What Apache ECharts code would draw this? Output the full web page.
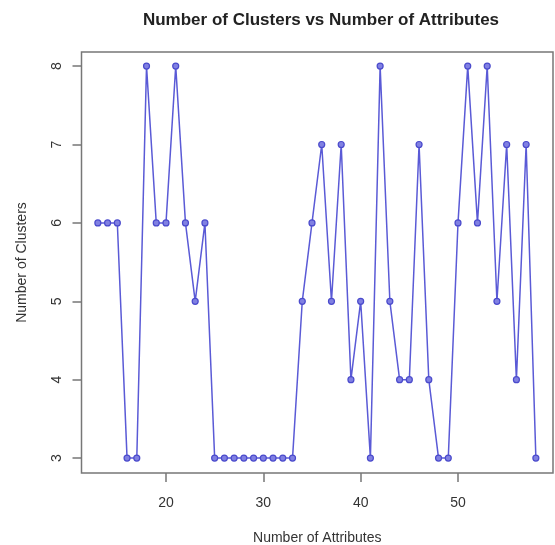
<!DOCTYPE html>
<html>
<head>
<meta charset="utf-8">
<script src="https://cdn.jsdelivr.net/npm/echarts@6/dist/echarts.min.js"></script>
<style>
  html, body { margin: 0; padding: 0; background: #fff; }
  #chart { width: 555px; height: 545px; }
</style>
</head>
<body>
<div id="chart"></div>
<script>
// Number of attributes used for each clustering run
const attributes = [13, 14, 15, 16, 17, 18, 19, 20, 21, 22, 23, 24, 25, 26, 27, 28,
  29, 30, 31, 32, 33, 34, 35, 36, 37, 38, 39, 40, 41, 42, 43, 44, 45, 46, 47, 48,
  49, 50, 51, 52, 53, 54, 55, 56, 57, 58];
// Number of clusters found for each run
const clusters = [6, 6, 6, 3, 3, 8, 6, 6, 8, 6, 5, 6, 3, 3, 3, 3,
  3, 3, 3, 3, 3, 5, 6, 7, 5, 7, 4, 5, 3, 8, 5, 4, 4, 7, 4, 3,
  3, 6, 8, 6, 8, 5, 7, 4, 7, 3];
// Axis tick labels
const xTicks = [20, 30, 40, 50];
const yTicks = [3, 4, 5, 6, 7, 8];

const FONT = '"Liberation Sans", Arial, sans-serif';
const TXT = '#333';

const chart = echarts.init(document.getElementById('chart'), null, { renderer: 'canvas' });

chart.setOption({
  animation: false,
  backgroundColor: '#fff',
  title: {
    text: 'Number of Clusters vs Number of Attributes',
    left: 316,
    top: 7,
    textAlign: 'center',
    textStyle: { fontFamily: FONT, fontSize: 17, fontWeight: 'bold', color: '#222' }
  },
  grid: {
    left: 81.5, right: 2, top: 52, bottom: 72,
    outerBoundsMode: 'none',
    containLabel: false,
    show: true, borderColor: '#777', borderWidth: 1.5, backgroundColor: 'transparent'
  },
  xAxis: {
    type: 'value',
    min: 11.32, max: 59.76,
    name: 'Number of Attributes',
    nameLocation: 'middle',
    nameGap: 58,
    nameTextStyle: { fontFamily: FONT, fontSize: 14, color: TXT },
    splitLine: { show: false },
    axisLine: { show: false },
    axisTick: {
      show: true, inside: false, length: 9, customValues: xTicks,
      lineStyle: { color: '#777', width: 1.5 }
    },
    axisLabel: {
      customValues: xTicks, margin: 23,
      fontFamily: FONT, fontSize: 14, color: TXT
    }
  },
  yAxis: {
    type: 'value',
    min: 2.81, max: 8.18,
    name: 'Number of Clusters',
    nameLocation: 'middle',
    nameGap: 52,
    nameRotate: 90,
    nameTextStyle: { fontFamily: FONT, fontSize: 14, color: TXT },
    splitLine: { show: false },
    axisLine: { show: false },
    axisTick: {
      show: true, inside: false, length: 9, customValues: yTicks,
      lineStyle: { color: '#777', width: 1.5 }
    },
    axisLabel: {
      customValues: yTicks, margin: 17, rotate: 90,
      fontFamily: FONT, fontSize: 14, color: TXT
    }
  },
  series: [{
    type: 'line',
    data: attributes.map((a, i) => [a, clusters[i]]),
    symbol: 'circle',
    symbolSize: 6,
    showSymbol: true,
    lineStyle: { color: '#5a5ad6', width: 1.5 },
    itemStyle: { color: '#8080e2', borderColor: '#4a4acc', borderWidth: 1.2 },
    emphasis: { disabled: true }
  }]
});
</script>
</body>
</html>
